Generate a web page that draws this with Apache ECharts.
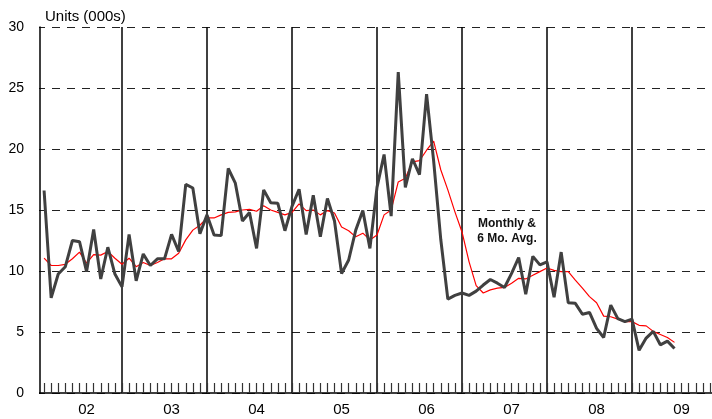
<!DOCTYPE html>
<html>
<head>
<meta charset="utf-8">
<script src="https://cdn.jsdelivr.net/npm/echarts@6/dist/echarts.min.js"></script>
<style>
  html, body { margin: 0; padding: 0; background: #fff; }
  #chart { width: 712px; height: 419px; }
</style>
</head>
<body>
<div id="chart"></div>
<script>
// monthly units (000s), one value per month from early 2002
const monthly = [
  16.6, 7.8, 9.75, 10.35, 12.5, 12.4, 9.95, 13.4, 9.35, 11.95,
  9.75, 8.7, 13.0, 9.2, 11.4, 10.45, 11.0, 11.0, 13.0, 11.6,
  17.1, 16.8, 13.05, 14.6, 12.95, 12.9, 18.4, 17.2, 14.1, 14.8,
  11.85, 16.65, 15.6, 15.55, 13.3, 15.3, 16.7, 13.0, 16.2, 12.8,
  15.95, 14.1, 9.8, 10.9, 13.35, 14.95, 11.85, 16.85, 19.55, 14.5,
  26.3, 16.85, 19.2, 17.9, 24.5, 19.0, 12.6, 7.7, 8.0, 8.2,
  8.0, 8.35, 8.85, 9.3, 9.0, 8.65, 9.8, 11.1, 8.1, 11.2,
  10.5, 10.75, 7.85, 11.55, 7.4, 7.35, 6.45, 6.6, 5.3, 4.55,
  7.2, 6.1, 5.85, 6.05, 3.5, 4.5, 5.05, 3.95, 4.25, 3.65
]
// 6 month average (red line)
const avg6 = [
  11.05, 10.45, 10.45, 10.55, 11.0, 11.55, 10.65, 11.35, 11.3, 11.6,
  11.05, 10.55, 11.05, 10.35, 10.7, 10.45, 10.7, 11.0, 11.0, 11.45,
  12.55, 13.35, 13.75, 14.35, 14.35, 14.6, 14.8, 14.85, 15.0, 15.05,
  14.9, 15.35, 15.0, 14.8, 14.6, 14.8, 15.5, 14.95, 15.0, 14.6,
  14.95, 14.75, 13.6, 13.3, 12.8, 13.1, 12.55, 12.95, 14.6, 15.0,
  17.3, 17.6, 18.95, 19.05, 19.9, 20.65, 18.3, 16.65, 14.85, 13.2,
  10.75, 8.8, 8.2, 8.45, 8.6, 8.65, 9.0, 9.4, 9.35, 9.65,
  9.95, 10.25, 10.05, 9.95, 9.95, 9.25, 8.6, 7.9, 7.4, 6.3,
  6.25, 6.05, 5.85, 5.85, 5.55, 5.5, 5.05, 4.8, 4.55, 4.15
]
const yearLabels = ['02', '03', '04', '05', '06', '07', '08', '09']
const yTicks = [0, 5, 10, 15, 20, 25, 30]

const font = 'Liberation Sans, Arial, sans-serif'

let chart = echarts.init(document.getElementById('chart'))
chart.setOption({
  animation: false,
  textStyle: { fontFamily: font },
  title: {
    text: 'Units (000s)',
    left: 40,
    top: 4,
    textStyle: { fontSize: 15, fontWeight: 'normal', color: '#000', fontFamily: font }
  },
  // plot runs past the right edge of the picture, like the original
  grid: { left: 37, top: 27, width: 680, height: 366, outerBoundsMode: 'none' },
  xAxis: [
    {
      type: 'value',
      min: 0,
      max: 96,
      interval: 1,
      axisLine: { lineStyle: { color: '#000', width: 1.5 } },
      axisTick: { inside: true, length: 10, lineStyle: { color: '#333', width: 1.2 } },
      axisLabel: {
        margin: 9,
        fontSize: 15,
        color: '#000',
        formatter: v => (v % 12 === 7 ? yearLabels[(v - 7) / 12] || '' : '')
      },
      splitLine: { show: false }
    },
    {
      // year separators
      type: 'value',
      position: 'top',
      min: 0,
      max: 96,
      interval: 12,
      axisLine: { show: false },
      axisTick: { show: false },
      axisLabel: { show: false },
      splitLine: { lineStyle: { color: '#000', width: 1.5 } }
    }
  ],
  yAxis: {
    type: 'value',
    min: yTicks[0],
    max: yTicks[yTicks.length - 1],
    interval: 5,
    offset: -3,
    axisLine: { show: true, lineStyle: { color: '#000', width: 1.5 } },
    axisTick: { show: false },
    axisLabel: { margin: 16, fontSize: 14, color: '#000' },
    splitLine: { lineStyle: { color: '#222', type: [8, 7], width: 1 } }
  },
  graphic: [
    {
      type: 'rect',
      z: 1,
      shape: { x: 25, y: 20, width: 14, height: 380 },
      style: { fill: '#fff' },
      silent: true
    },
    {
      type: 'text',
      z: 10,
      x: 507,
      y: 216,
      style: {
        text: 'Monthly &\n6 Mo. Avg.',
        font: 'bold 12px Liberation Sans, Arial, sans-serif',
        fill: '#111',
        textAlign: 'center',
        lineHeight: 15
      }
    }
  ],
  series: [
    {
      name: '6 Mo. Avg.',
      type: 'line',
      data: avg6.map((v, i) => [i + 1, v]),
      showSymbol: false,
      lineStyle: { color: '#ff0000', width: 1.2 },
      z: 3
    },
    {
      name: 'Monthly',
      type: 'line',
      data: monthly.map((v, i) => [i + 1, v]),
      showSymbol: false,
      lineStyle: { color: '#404040', width: 3 },
      z: 4
    }
  ]
})
</script>
</body>
</html>
